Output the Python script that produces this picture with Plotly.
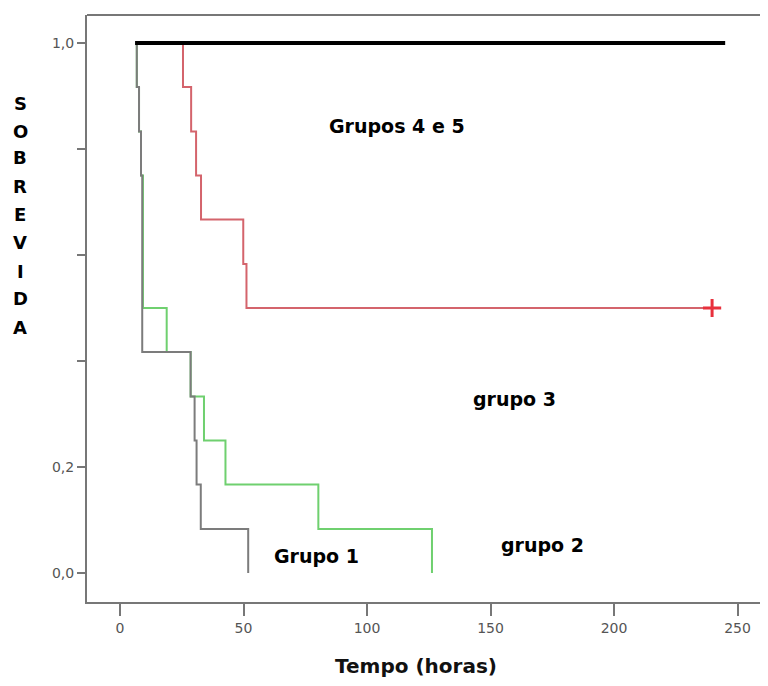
import plotly.graph_objects as go

# Kaplan-Meier step data (time in hours, survival proportion)
g1_t = [6.8, 6.8, 7.7, 8.5, 9.0, 28.6, 30.2, 31.0, 32.7, 51.9]
g1_s = [1.0, 0.917, 0.833, 0.75, 0.417, 0.333, 0.25, 0.167, 0.083, 0.0]

g2_t = [6.8, 6.8, 7.7, 8.5, 9.3, 18.9, 28.6, 34.0, 42.7, 80.3, 126.3]
g2_s = [1.0, 0.917, 0.833, 0.75, 0.5, 0.417, 0.333, 0.25, 0.167, 0.083, 0.0]

g3_t = [25.5, 25.5, 28.8, 30.8, 32.8, 49.9, 51.2, 239.7]
g3_s = [1.0, 0.917, 0.833, 0.75, 0.667, 0.583, 0.5, 0.5]
g3_censor_t = [239.7]
g3_censor_s = [0.5]

g45_t = [6.1, 245.0]
g45_s = [1.0, 1.0]

x_ticks = [0, 50, 100, 150, 200, 250]
x_ticklabels = ["0", "50", "100", "150", "200", "250"]
y_ticks = [0.0, 0.2, 0.4, 0.6, 0.8, 1.0]
y_ticklabels = ["0,0", "0,2", "", "", "", "1,0"]

labels = [
    ("Grupos 4 e 5", 397, 126),
    ("grupo 3", 514, 399),
    ("grupo 2", 542, 545),
    ("Grupo 1", 316, 556),
]
ytitle_letters = list("SOBREVIDA")
ytitle_py = [103, 131, 158, 186, 214, 243, 271, 298, 327]

# page has an 8px body margin; figure is sized to fit inside the window
OFF = 8
W, H = 752, 670
L, R, T, B = 79, 0, 7, 76
pw, ph = W - L - R, H - T - B

def px(x):
    return (x - OFF - L) / pw

def py(y):
    return (H - B - (y - OFF)) / ph

FONT = "DejaVu Sans"

fig = go.Figure()
fig.add_trace(go.Scatter(x=g2_t, y=g2_s, mode="lines", line_shape="hv",
                         line=dict(color="#6fd06f", width=2), showlegend=False))
fig.add_trace(go.Scatter(x=g1_t, y=g1_s, mode="lines", line_shape="hv",
                         line=dict(color="#7c7c7c", width=2), showlegend=False))
fig.add_trace(go.Scatter(x=g3_t, y=g3_s, mode="lines", line_shape="hv",
                         line=dict(color="#d4646c", width=2), showlegend=False))
fig.add_trace(go.Scatter(x=g3_censor_t, y=g3_censor_s, mode="markers",
                         marker=dict(symbol="cross-thin", size=13,
                                     line=dict(color="#e8303c", width=3)),
                         showlegend=False))
fig.add_trace(go.Scatter(x=g45_t, y=g45_s, mode="lines",
                         line=dict(color="#000000", width=4), showlegend=False))

annotations = []
for text, x, y in labels:
    annotations.append(dict(text="<b>%s</b>" % text, x=px(x), y=py(y),
                            xref="paper", yref="paper", showarrow=False,
                            xanchor="center", yanchor="middle",
                            font=dict(family=FONT, size=19, color="#000")))
for ch, y in zip(ytitle_letters, ytitle_py):
    annotations.append(dict(text="<b>%s</b>" % ch, x=px(20), y=py(y),
                            xref="paper", yref="paper", showarrow=False,
                            xanchor="center", yanchor="middle",
                            font=dict(family=FONT, size=18, color="#000")))
annotations.append(dict(text="<b>Tempo (horas)</b>", x=px(416), y=py(666),
                        xref="paper", yref="paper", showarrow=False,
                        xanchor="center", yanchor="middle",
                        font=dict(family=FONT, size=20, color="#111")))

fig.update_layout(
    width=W, height=H,
    margin=dict(l=L, r=R, t=T, b=B),
    paper_bgcolor="white", plot_bgcolor="white",
    annotations=annotations,
    shapes=[dict(type="line", xref="paper", yref="paper", x0=0, x1=1, y0=1, y1=1,
                 line=dict(color="#777777", width=2))],
    xaxis=dict(range=[-13.36, 259.1], tickvals=x_ticks, ticktext=x_ticklabels,
               showgrid=False, zeroline=False, showline=True, linecolor="#777777",
               linewidth=2, ticks="outside", ticklen=12, tickwidth=2, tickcolor="#777777",
               tickfont=dict(family=FONT, size=14, color="#555555")),
    yaxis=dict(range=[-0.0547, 1.0528], tickvals=y_ticks, ticktext=y_ticklabels,
               showgrid=False, zeroline=False, showline=True, linecolor="#777777",
               linewidth=2, ticks="outside", ticklen=8, tickwidth=2, tickcolor="#777777",
               tickfont=dict(family=FONT, size=14, color="#555555")),
)

fig.write_html("out.html")
